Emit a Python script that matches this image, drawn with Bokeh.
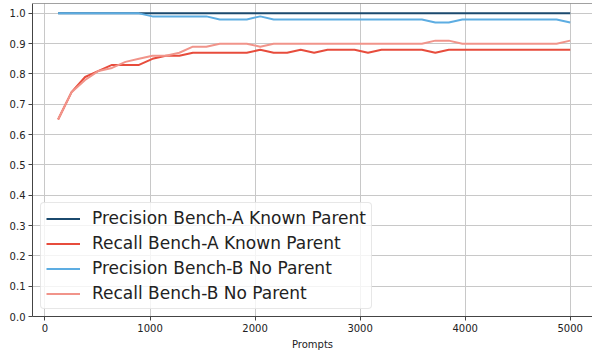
from bokeh.plotting import figure
from bokeh.models import Range1d, Legend, LegendItem, Span, FixedTicker
from bokeh.embed import file_html
from bokeh.resources import INLINE

prompts = [125, 253, 382, 510, 638, 766, 895, 1023, 1151, 1279, 1408, 1536, 1664,
           1792, 1921, 2049, 2177, 2305, 2434, 2562, 2690, 2818, 2947, 3075, 3203,
           3331, 3460, 3588, 3716, 3844, 3973, 4101, 4229, 4357, 4486, 4614, 4742,
           4870, 5000]

precision_a = [1.0, 1.0, 1.0, 1.0, 1.0, 1.0, 1.0, 1.0, 1.0, 1.0, 1.0, 1.0, 1.0,
               1.0, 1.0, 1.0, 1.0, 1.0, 1.0, 1.0, 1.0, 1.0, 1.0, 1.0, 1.0,
               1.0, 1.0, 1.0, 1.0, 1.0, 1.0, 1.0, 1.0, 1.0, 1.0, 1.0, 1.0,
               1.0, 1.0]
recall_a = [0.65, 0.74, 0.79, 0.81, 0.83, 0.83, 0.83, 0.85, 0.86, 0.86, 0.87, 0.87, 0.87,
            0.87, 0.87, 0.88, 0.87, 0.87, 0.88, 0.87, 0.88, 0.88, 0.88, 0.87, 0.88,
            0.88, 0.88, 0.88, 0.87, 0.88, 0.88, 0.88, 0.88, 0.88, 0.88, 0.88, 0.88,
            0.88, 0.88]
precision_b = [1.0, 1.0, 1.0, 1.0, 1.0, 1.0, 1.0, 0.99, 0.99, 0.99, 0.99, 0.99, 0.98,
               0.98, 0.98, 0.99, 0.98, 0.98, 0.98, 0.98, 0.98, 0.98, 0.98, 0.98, 0.98,
               0.98, 0.98, 0.98, 0.97, 0.97, 0.98, 0.98, 0.98, 0.98, 0.98, 0.98, 0.98,
               0.98, 0.97]
recall_b = [0.65, 0.74, 0.78, 0.81, 0.82, 0.84, 0.85, 0.86, 0.86, 0.87, 0.89, 0.89, 0.90,
            0.90, 0.90, 0.89, 0.90, 0.90, 0.90, 0.90, 0.90, 0.90, 0.90, 0.90, 0.90,
            0.90, 0.90, 0.90, 0.91, 0.91, 0.90, 0.90, 0.90, 0.90, 0.90, 0.90, 0.90,
            0.90, 0.91]

labels = ["Precision Bench-A Known Parent", "Recall Bench-A Known Parent",
          "Precision Bench-B No Parent", "Recall Bench-B No Parent"]
series = [precision_a, recall_a, precision_b, recall_b]
colors = ["#1b4a6e", "#e74c3c", "#5dade2", "#f1948a"]

x_ticks = [0, 1000, 2000, 3000, 4000, 5000]
y_ticks = [0.0, 0.1, 0.2, 0.3, 0.4, 0.5, 0.6, 0.7, 0.8, 0.9, 1.0]

FONT = "DejaVu Sans"

p = figure(width=592, height=354, output_backend="svg", toolbar_location=None,
           x_range=Range1d(-118.75, 5212), y_range=Range1d(0, 1.0325),
           min_border_left=32, min_border_right=0, min_border_top=3,
           min_border_bottom=38)
p.outline_line_color = None
p.background_fill_color = "white"
p.border_fill_color = "white"

renderers = []
for ys, c in zip(series, colors):
    r = p.line(prompts, ys, line_color=c, line_width=2)
    renderers.append(r)

# top spine
p.add_layout(Span(location=1.0325, dimension="width", line_color="#444444", line_width=1))

for ax in (p.xaxis[0], p.yaxis[0]):
    ax.axis_line_color = "#444444"
    ax.axis_line_width = 1
    ax.major_tick_line_color = "#444444"
    ax.major_tick_out = 4
    ax.major_tick_in = 0
    ax.minor_tick_line_color = None
    ax.major_label_text_font = FONT
    ax.major_label_text_font_size = "10px"
    ax.major_label_text_color = "#222222"
    ax.major_label_standoff = 3

p.xaxis.ticker = FixedTicker(ticks=x_ticks)
p.yaxis.ticker = FixedTicker(ticks=y_ticks)
p.yaxis.major_label_overrides = {t: f"{t:.1f}" for t in y_ticks}
p.xaxis.axis_label = "Prompts"
p.xaxis.axis_label_text_font = FONT
p.xaxis.axis_label_text_font_size = "10px"
p.xaxis.axis_label_text_font_style = "normal"
p.xaxis.axis_label_text_color = "#222222"
p.xaxis.axis_label_standoff = 4

p.xgrid.ticker = FixedTicker(ticks=x_ticks)
p.ygrid.ticker = FixedTicker(ticks=y_ticks)
p.grid.grid_line_color = "#c8c8c8"
p.grid.grid_line_width = 1

legend = Legend(items=[LegendItem(label=l, renderers=[r]) for l, r in zip(labels, renderers)],
                location=(8, 7))
legend.label_text_font = FONT
legend.label_text_font_size = "17px"
legend.label_text_color = "#222222"
legend.glyph_width = 34
legend.glyph_height = 19
legend.label_height = 19
legend.label_standoff = 12
legend.spacing = 5
legend.padding = 5
legend.margin = 0
legend.border_line_color = "#d0d0d0"
legend.border_line_width = 1
legend.background_fill_alpha = 0.8
try:
    legend.border_radius = 4
except Exception:
    pass
p.add_layout(legend, "center")

open("out.html", "w").write(file_html(p, INLINE))
